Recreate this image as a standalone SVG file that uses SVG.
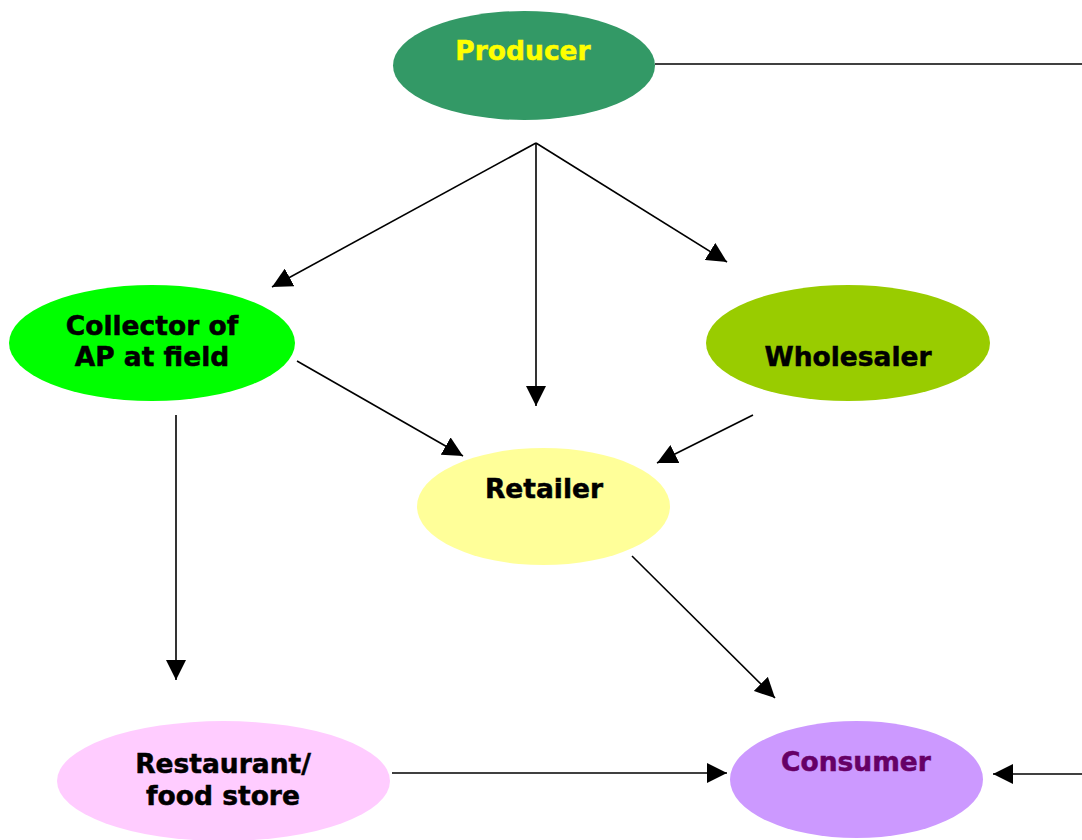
<svg xmlns="http://www.w3.org/2000/svg" width="1082" height="840" viewBox="0 0 1082 840">
  <style>
    .lbl { font-family: "DejaVu Sans", Verdana, sans-serif; font-weight: bold; font-size: 26.5px; text-anchor: middle; stroke-width: 0.5px; }
    .edge { stroke: #000; stroke-width: 1.6; fill: none; }
  </style>
  <defs>
    <marker id="arrow" viewBox="0 0 20 20" refX="20" refY="10" markerWidth="20" markerHeight="20" markerUnits="userSpaceOnUse" orient="auto">
      <path d="M0,0 L20,10 L0,20 Z" fill="#000"/>
    </marker>
  </defs>
  <rect width="1082" height="840" fill="#fff"/>

  <g id="connectors">
    <line class="edge" x1="655" y1="64" x2="1082" y2="64"/>
    <line class="edge" x1="536" y1="143" x2="272" y2="287" marker-end="url(#arrow)"/>
    <line class="edge" x1="536" y1="143" x2="536" y2="406" marker-end="url(#arrow)"/>
    <line class="edge" x1="536" y1="143" x2="727" y2="262" marker-end="url(#arrow)"/>
    <line class="edge" x1="297" y1="361" x2="463" y2="456" marker-end="url(#arrow)"/>
    <line class="edge" x1="753" y1="415" x2="657" y2="463" marker-end="url(#arrow)"/>
    <line class="edge" x1="176" y1="415" x2="176" y2="680" marker-end="url(#arrow)"/>
    <line class="edge" x1="632" y1="556" x2="775" y2="698" marker-end="url(#arrow)"/>
    <line class="edge" x1="392" y1="773" x2="727" y2="773" marker-end="url(#arrow)"/>
    <line class="edge" x1="1082" y1="774" x2="993" y2="774" marker-end="url(#arrow)"/>
  </g>

  <g id="producer">
    <ellipse cx="524" cy="65.5" rx="131" ry="54.5" fill="#339966"/>
    <text class="lbl" x="523" y="60" fill="#FFFF00" stroke="#FFFF00">Producer</text>
  </g>
  <g id="collector">
    <ellipse cx="152" cy="343" rx="143" ry="58" fill="#00FF00"/>
    <text class="lbl" x="152" y="335" fill="#000" stroke="#000">Collector of</text>
    <text class="lbl" x="152" y="366" fill="#000" stroke="#000">AP at field</text>
  </g>
  <g id="wholesaler">
    <ellipse cx="848" cy="343" rx="142" ry="58" fill="#99CC00"/>
    <text class="lbl" x="848" y="366" fill="#000" stroke="#000">Wholesaler</text>
  </g>
  <g id="retailer">
    <ellipse cx="543.5" cy="506.5" rx="126.5" ry="58.5" fill="#FFFF99"/>
    <text class="lbl" x="544" y="498" fill="#000" stroke="#000">Retailer</text>
  </g>
  <g id="restaurant">
    <ellipse cx="223.5" cy="781" rx="166.5" ry="60" fill="#FFCCFF"/>
    <text class="lbl" x="223" y="773" fill="#000" stroke="#000">Restaurant/</text>
    <text class="lbl" x="223" y="805" fill="#000" stroke="#000">food store</text>
  </g>
  <g id="consumer">
    <ellipse cx="856.5" cy="779.5" rx="126.5" ry="58.5" fill="#CC99FF"/>
    <text class="lbl" x="856" y="771" fill="#660066" stroke="#660066">Consumer</text>
  </g>
</svg>
